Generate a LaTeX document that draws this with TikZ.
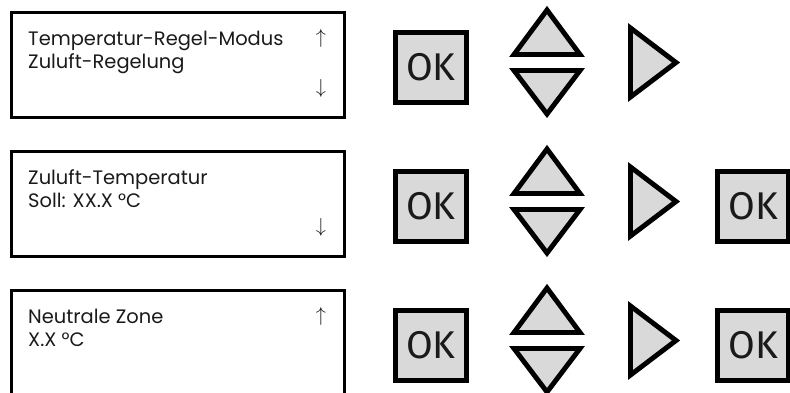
\documentclass[tikz,border=0pt]{standalone}
\usepackage{fontspec}
\setmainfont{Poppins}
\newfontfamily\okfont{Fira Sans}
\definecolor{btngray}{HTML}{D9D9D9}
\definecolor{ink}{HTML}{1A1A1A}
\usetikzlibrary{positioning}
\tikzset{
  lcd/.style={draw=black,line width=2.6pt,fill=white,minimum width=9.99cm,
              minimum height=3.15cm,inner sep=0pt},
  txt/.style={anchor=base west,inner sep=0pt,text=ink,font=\fontsize{16.6}{19}\selectfont},
  arw/.style={inner sep=0pt,text=ink,font=\fontsize{19}{19}\selectfont},
  okbtn/.style={draw=black,line width=4.2pt,fill=btngray,minimum width=2.13cm,
                minimum height=2.1cm,inner sep=0pt,text=ink,font=\okfont\fontsize{33}{33}\selectfont},
  tri/.style={draw=black,line width=4.2pt,fill=btngray}
}

\begin{document}
\begin{tikzpicture}[x=0.03cm,y=-0.03cm]
    \useasboundingbox (0,0) rectangle (790,392);
    \clip (0,0) rectangle (790,392);
    \foreach \r/\first/\second/\up/\down/\ok in {0/{Temperatur-Regel-Modus}/{Zuluft-Regelung}/1/1/0,
        1/{Zuluft-Temperatur}/{Soll: XX.X °C}/0/1/1,2/{Neutrale Zone}/{X.X °C}/1/0/1}{
      \pgfmathsetmacro\dy{139*\r}
      % display
      \node[lcd] (disp\r) at (178,{65+\dy}) {};
      \node[txt] (head\r) at (28,{45+\dy}) {\first};
      \node[txt] (val\r) at (28,{68+\dy}) {\second};
      \ifnum\up=1 \node[arw] (up\r) at (321,{38+\dy}) {$\uparrow$}; \fi
      \ifnum\down=1 \node[arw] (dn\r) at (321,{88+\dy}) {$\downarrow$}; \fi
      % keys
      \node[okbtn] (ok\r) at (431,{67.5+\dy}) {OK};
      \draw[tri] (514,{54.5+\dy}) -- (547,{10+\dy}) -- (580,{54.5+\dy}) -- cycle;
      \draw[tri] (514,{70.5+\dy}) -- (580,{70.5+\dy}) -- (547,{114+\dy}) -- cycle;
      \draw[tri] (630.5,{28+\dy}) -- (676,{62.5+\dy}) -- (630.5,{97+\dy}) -- cycle;
      \ifnum\ok=1 \node[okbtn] (okr\r) at (753,{67.5+\dy}) {OK}; \fi
    }
  \end{tikzpicture}
\end{document}
